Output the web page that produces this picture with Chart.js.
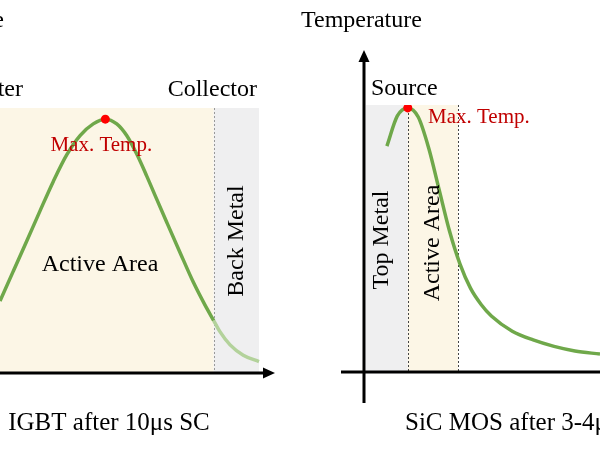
<!DOCTYPE html>
<html><head><meta charset="utf-8">
<script src="https://cdn.jsdelivr.net/npm/chart.js@4/dist/chart.umd.min.js"></script>
<style>
html,body{margin:0;padding:0;background:#fff;width:600px;height:450px;overflow:hidden}
canvas{position:absolute;top:0}
#c1{left:0}
#c2{left:300px}
</style></head>
<body>
<canvas id="c1" width="300" height="450"></canvas>
<canvas id="c2" width="300" height="450"></canvas>
<script>
// ---- Data: IGBT after 10us SC (position across chip, a.u. / temperature, a.u.)
const igbtX = [0, 0.62, 1.24, 1.85, 2.47, 3.09, 3.71, 4.32, 4.88, 5.41, 5.87, 6.33, 6.8, 7.26, 7.72, 8.34, 8.96, 9.5, 9.9, 10.19, 10.66, 11.27, 12];
const igbtT = [27.2, 38.5, 49.8, 61.1, 72.3, 82.3, 89.6, 94.0, 95.8, 94.0, 89.6, 82.7, 74.3, 65.6, 57.0, 45.5, 34.2, 25.6, 19.8, 15.6, 10.6, 6.7, 4.3];
const igbtEdges = [0, 9.9, 12];
const igbtRegions = ['Active Area', 'Back Metal'];

// ---- Data: SiC MOS after 3-4us SC
const sicX = [0.5, 0.75, 1.0, 1.25, 1.5, 1.75, 2.0, 2.25, 2.5, 2.75, 3.0, 3.5, 4.0, 4.5, 5.0, 5.6];
const sicT = [84.6, 95.9, 98.9, 95.5, 83.9, 68.3, 52.7, 40.4, 31.4, 25.4, 21.0, 15.3, 12.0, 9.6, 7.9, 6.7];
const sicEdges = [0, 1, 2.2];
const sicRegions = ['Top Metal', 'Active Area'];

const FONT = '"Liberation Serif", "Times New Roman", serif';
const GREEN = '#6fa84a';
const GREEN_LIGHT = '#b3d29b';
const CREAM = '#fcf6e6';
const GREY = '#efeff0';

function pts(xs, ys) { return xs.map((v, i) => ({x: v, y: ys[i]})); }
function peakOf(xs, ys) { let k = 0; ys.forEach((v, i) => { if (v > ys[k]) k = i; }); return [{x: xs[k], y: ys[k]}]; }

function text(ctx, s, x, y, size, align, color) {
  ctx.save();
  ctx.font = size + 'px ' + FONT;
  ctx.fillStyle = color || '#000';
  ctx.textAlign = align || 'left';
  ctx.textBaseline = 'alphabetic';
  ctx.fillText(s, x, y);
  ctx.restore();
}
function vtext(ctx, s, cx, cy, size) {
  ctx.save();
  ctx.translate(cx, cy);
  ctx.rotate(-Math.PI / 2);
  ctx.font = size + 'px ' + FONT;
  ctx.fillStyle = '#000';
  ctx.textAlign = 'center';
  ctx.textBaseline = 'middle';
  ctx.fillText(s, 0, 0);
  ctx.restore();
}
function arrowLine(ctx, x1, y1, x2, y2) {
  const ang = Math.atan2(y2 - y1, x2 - x1), L = 12, H = 5.5;
  ctx.save();
  ctx.strokeStyle = '#000'; ctx.fillStyle = '#000'; ctx.lineWidth = 3;
  ctx.beginPath(); ctx.moveTo(x1, y1);
  ctx.lineTo(x2 - Math.cos(ang) * L, y2 - Math.sin(ang) * L); ctx.stroke();
  ctx.translate(x2, y2); ctx.rotate(ang);
  ctx.beginPath(); ctx.moveTo(0, 0); ctx.lineTo(-L, -H); ctx.lineTo(-L, H); ctx.closePath(); ctx.fill();
  ctx.restore();
}
function dotted(ctx, x, y1, y2, color) {
  ctx.save();
  ctx.strokeStyle = color; ctx.lineWidth = 1; ctx.setLineDash([2, 2]);
  ctx.beginPath(); ctx.moveTo(Math.round(x) + 0.5, y1); ctx.lineTo(Math.round(x) + 0.5, y2); ctx.stroke();
  ctx.restore();
}

function baseOptions(xmax, pad) {
  return {
    responsive: false, animation: false, devicePixelRatio: 1,
    layout: {padding: pad, autoPadding: false},
    plugins: {legend: {display: false}, tooltip: {enabled: false}},
    events: [],
    scales: {
      x: {type: 'linear', min: 0, max: xmax, display: false},
      y: {type: 'linear', min: 0, max: 100, display: false}
    }
  };
}

// ---------------- IGBT panel ----------------
const igbtPlugin = {
  id: 'igbtDeco',
  beforeDatasetsDraw(chart) {
    const {ctx, scales: {x, y}} = chart;
    const top = y.getPixelForValue(100), bot = y.getPixelForValue(0);
    const fills = [CREAM, GREY];
    for (let i = 0; i < igbtRegions.length; i++) {
      const a = x.getPixelForValue(igbtEdges[i]), b = x.getPixelForValue(igbtEdges[i + 1]);
      ctx.fillStyle = fills[i]; ctx.fillRect(a, top, b - a, bot - top);
    }
    dotted(ctx, x.getPixelForValue(igbtEdges[1]), top, bot, '#999');
  },
  afterDatasetsDraw(chart) {
    const {ctx, chartArea: ar, scales: {x, y}} = chart;
    const bot = y.getPixelForValue(0);
    arrowLine(ctx, ar.left - 5, bot, ar.right + 16, bot);
    text(ctx, 'Temperature', 4, 27, 24, 'right');
    text(ctx, 'Emitter', 23, 96, 24, 'right');
    text(ctx, 'Collector', ar.right - 2, 96, 24, 'right');
    const pk = peakOf(igbtX, igbtT)[0];
    text(ctx, 'Max. Temp.', x.getPixelForValue(pk.x) - 4, 151, 21, 'center', '#c00000');
    text(ctx, igbtRegions[0], 100, 271, 24, 'center');
    vtext(ctx, igbtRegions[1], (x.getPixelForValue(igbtEdges[1]) + x.getPixelForValue(igbtEdges[2])) / 2, 241, 24);
    text(ctx, 'IGBT after 10\u03bcs SC', 109, 430, 25, 'center');
  }
};

new Chart(document.getElementById('c1'), {
  type: 'line',
  data: {datasets: [
    {data: peakOf(igbtX, igbtT), showLine: false, pointRadius: 4.5, pointBackgroundColor: '#ff0000', pointBorderWidth: 0, order: 0},
    {data: pts(igbtX, igbtT), borderColor: GREEN, borderWidth: 3.5, pointRadius: 0, fill: false,
     cubicInterpolationMode: 'monotone', clip: false, order: 1,
     segment: {borderColor: c => c.p0.parsed.x >= igbtEdges[1] - 1e-9 ? GREEN_LIGHT : GREEN}}
  ]},
  options: baseOptions(12, {left: 0, right: 41, top: 108, bottom: 77}),
  plugins: [igbtPlugin]
});

// ---------------- SiC MOS panel ----------------
const sicPlugin = {
  id: 'sicDeco',
  beforeDatasetsDraw(chart) {
    const {ctx, scales: {x, y}} = chart;
    const top = y.getPixelForValue(100), bot = y.getPixelForValue(0);
    const fills = [GREY, CREAM];
    for (let i = 0; i < sicRegions.length; i++) {
      const a = x.getPixelForValue(sicEdges[i]), b = x.getPixelForValue(sicEdges[i + 1]);
      ctx.fillStyle = fills[i]; ctx.fillRect(a, top, b - a, bot - top);
    }
    dotted(ctx, x.getPixelForValue(sicEdges[1]), top, bot, '#444');
    dotted(ctx, x.getPixelForValue(sicEdges[2]), top, bot, '#444');
  },
  afterDatasetsDraw(chart) {
    const {ctx, chartArea: ar, scales: {x, y}} = chart;
    const bot = y.getPixelForValue(0);
    arrowLine(ctx, ar.left - 25, bot, ar.right + 30, bot);
    arrowLine(ctx, ar.left - 2, bot + 31, ar.left - 2, ar.top - 55);
    text(ctx, 'Temperature', 1, 27, 24, 'left');
    text(ctx, 'Source', 71, 95, 24, 'left');
    text(ctx, 'Max. Temp.', 128, 123, 21, 'left', '#c00000');
    vtext(ctx, sicRegions[0], 82, 240, 24);
    vtext(ctx, sicRegions[1], (x.getPixelForValue(sicEdges[1]) + x.getPixelForValue(sicEdges[2])) / 2, 243, 24);
    text(ctx, 'SiC MOS after 3-4\u03bcs SC', 105, 430, 25, 'left');
  }
};

new Chart(document.getElementById('c2'), {
  type: 'line',
  data: {datasets: [
    {data: peakOf(sicX, sicT), showLine: false, pointRadius: 4.5, pointBackgroundColor: '#ff0000', pointBorderWidth: 0, order: 0},
    {data: pts(sicX, sicT), borderColor: GREEN, borderWidth: 3.5, pointRadius: 0, fill: false,
     cubicInterpolationMode: 'monotone', clip: false, order: 1}
  ]},
  options: baseOptions(5.6, {left: 66, right: 0, top: 105, bottom: 78}),
  plugins: [sicPlugin]
});
</script>
</body></html>
